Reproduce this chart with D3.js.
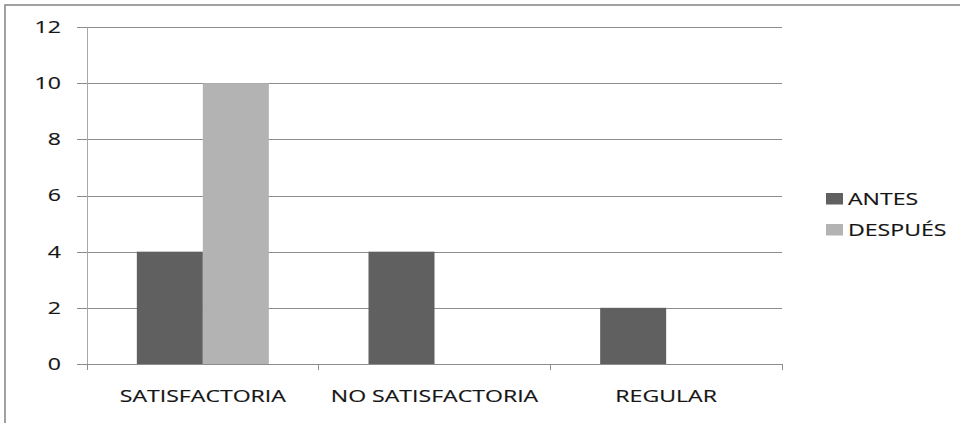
<!DOCTYPE html>
<html>
<head>
<meta charset="utf-8">
<script src="https://cdn.jsdelivr.net/npm/d3@7/dist/d3.min.js"></script>
<style>
  html, body { margin: 0; padding: 0; background: #fff; }
  svg { display: block; }
  text { font-family: "Open Sans", "DejaVu Sans", sans-serif; fill: #151515; stroke: #151515; stroke-width: 0.15px; }
</style>
</head>
<body>
<svg id="chart" width="960" height="423"></svg>
<script>
// Chart data
const categories = ["SATISFACTORIA", "NO SATISFACTORIA", "REGULAR"];
const seriesNames = ["ANTES", "DESPUÉS"];
const antes = [4, 4, 2];
const despues = [10, 0, 0];
const yTicks = [0, 2, 4, 6, 8, 10, 12];
const seriesColors = ["#606060", "#b3b3b3"];

const seriesValues = [antes, despues];
const rows = categories.map((c, i) => ({
  category: c,
  values: seriesNames.map((s, j) => ({ key: s, value: seriesValues[j][i] }))
}));

const W = 960, H = 423;
const plot = { left: 87, right: 782, top: 27, bottom: 364 };
const textStretch = 1.4; // wide lettering of the labels
const fontSize = 16.5;

const svg = d3.select("#chart");

// outer frame
svg.append("rect")
  .attr("x", 5).attr("y", 5)
  .attr("width", W + 10).attr("height", H + 10)
  .attr("fill", "none")
  .attr("stroke", "#8a8a8a")
  .attr("stroke-width", 1.6);

const x0 = d3.scaleBand().domain(categories).range([plot.left, plot.right]).paddingInner(0).paddingOuter(0);
const x1 = d3.scaleBand().domain(seriesNames).range([0, x0.bandwidth()]).paddingInner(0).paddingOuter(0.755);
const y = d3.scaleLinear().domain([0, 12]).range([plot.bottom, plot.top]);
const color = d3.scaleOrdinal().domain(seriesNames).range(seriesColors);

// horizontal gridlines with their short left ticks
const grid = svg.append("g")
  .attr("transform", `translate(${plot.left},0)`)
  .call(d3.axisLeft(y).tickValues(yTicks).tickSize(-(plot.right - plot.left)).tickFormat(""));
grid.select(".domain").remove();
grid.selectAll(".tick line")
  .attr("x1", -10)
  .attr("stroke", "#8c8c8c")
  .attr("shape-rendering", "crispEdges");

// y tick labels
svg.append("g").selectAll("g")
  .data(yTicks)
  .join("g")
  .attr("transform", d => `translate(61,${y(d)}) scale(${textStretch},1)`)
  .append("text")
  .attr("text-anchor", "end")
  .attr("dy", "0.36em")
  .attr("font-size", fontSize)
  .text(d => d);

// bars
svg.append("g").selectAll("g")
  .data(rows)
  .join("g")
  .attr("transform", d => `translate(${x0(d.category)},0)`)
  .selectAll("rect")
  .data(d => d.values)
  .join("rect")
  .attr("x", d => x1(d.key))
  .attr("width", x1.bandwidth())
  .attr("y", d => y(d.value))
  .attr("height", d => y(0) - y(d.value))
  .attr("fill", d => color(d.key));

// y axis line
svg.append("line")
  .attr("x1", plot.left).attr("x2", plot.left)
  .attr("y1", plot.top).attr("y2", plot.bottom)
  .attr("stroke", "#a8a8a8")
  .attr("shape-rendering", "crispEdges");

// x axis with category dividers
const xAxis = svg.append("g")
  .attr("transform", `translate(0,${plot.bottom})`)
  .call(d3.axisBottom(x0).tickSize(0).tickFormat(""));
xAxis.select(".domain")
  .attr("d", `M${plot.left - 10},0.5H${plot.right}`)
  .attr("stroke", "#8c8c8c");
xAxis.selectAll(".tick").remove();
const dividers = categories.map(c => x0(c)).concat([x0(categories[categories.length - 1]) + x0.bandwidth()]);
xAxis.selectAll("line.div")
  .data(dividers)
  .join("line")
  .attr("class", "div")
  .attr("x1", d => d).attr("x2", d => d)
  .attr("y1", 0).attr("y2", 6)
  .attr("stroke", "#8c8c8c")
  .attr("shape-rendering", "crispEdges");

// category labels
svg.append("g").selectAll("g")
  .data(categories)
  .join("g")
  .attr("transform", d => `translate(${x0(d) + x0.bandwidth() / 2},401.5) scale(${textStretch},1)`)
  .append("text")
  .attr("text-anchor", "middle")
  .attr("font-size", fontSize)
  .text(d => d);

// legend
const legend = svg.append("g").attr("transform", "translate(826,193)");
const item = legend.selectAll("g")
  .data(seriesNames)
  .join("g")
  .attr("transform", (d, i) => `translate(0,${i * 31})`);
item.append("rect")
  .attr("width", 17).attr("height", 11.5)
  .attr("fill", d => color(d));
item.append("g")
  .attr("transform", `translate(22,11.8) scale(${textStretch},1)`)
  .append("text")
  .attr("font-size", fontSize)
  .text(d => d);
</script>
</body>
</html>
